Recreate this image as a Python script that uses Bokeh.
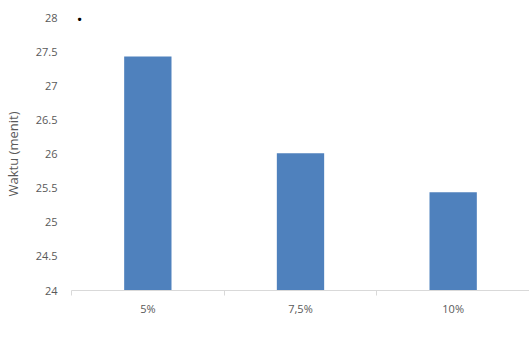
from bokeh.plotting import figure
from bokeh.models import ColumnDataSource, FixedTicker, Legend, LegendItem, Label, Range1d
from bokeh.embed import file_html
from bokeh.resources import INLINE

categories = ["5%", "7,5%", "10%"]
values = [27.43, 26.01, 25.44]
series_name = "Lama Waktu Pendidihan Air 1 Liter"
y_ticks = [24, 24.5, 25, 25.5, 26, 26.5, 27, 27.5, 28]

xs = [i + 0.5 for i in range(len(categories))]
src = ColumnDataSource(dict(x=xs, top=values, cat=categories))

FONT = "Open Sans"
GRAY = "#595959"

p = figure(frame_width=458, frame_height=273, output_backend="svg", toolbar_location=None,
           x_range=Range1d(0, len(categories)), y_range=Range1d(24, 28),
           min_border_left=8, min_border_right=0, min_border_top=17, min_border_bottom=0)
p.outline_line_color = None
p.grid.grid_line_color = None
p.background_fill_color = "white"
p.border_fill_color = "white"

r = p.vbar(x="x", top="top", bottom=24, width=0.31, source=src,
           fill_color="#4F81BD", line_color=None)

# x axis
p.xaxis.ticker = FixedTicker(ticks=xs, minor_ticks=list(range(len(categories) + 1)))
p.xaxis.major_label_overrides = {x: c for x, c in zip(xs, categories)}
p.xaxis.major_tick_line_color = None
p.xaxis.minor_tick_line_color = "#d9d9d9"
p.xaxis.minor_tick_in = 0
p.xaxis.minor_tick_out = 5
p.xaxis.axis_line_color = "#d9d9d9"
p.xaxis.major_label_text_font = FONT
p.xaxis.major_label_text_font_size = "11px"
p.xaxis.major_label_text_color = GRAY
p.xaxis.major_label_standoff = 4

# y axis
p.yaxis.ticker = FixedTicker(ticks=y_ticks)
p.yaxis.major_label_overrides = {t: (str(int(t)) if t == int(t) else str(t)) for t in y_ticks}
p.yaxis.axis_line_color = None
p.yaxis.major_tick_line_color = None
p.yaxis.minor_tick_line_color = None
p.yaxis.major_label_text_font = FONT
p.yaxis.major_label_text_font_size = "11px"
p.yaxis.major_label_text_color = GRAY
p.yaxis.major_label_standoff = 8
p.yaxis.axis_label = "Waktu (menit)"
p.yaxis.axis_label_text_font = FONT
p.yaxis.axis_label_text_font_size = "13px"
p.yaxis.axis_label_text_font_style = "normal"
p.yaxis.axis_label_text_color = GRAY
p.yaxis.axis_label_standoff = 11

legend = Legend(items=[LegendItem(label=series_name, renderers=[r])],
                orientation="horizontal", location=(124, 0),
                label_text_font=FONT, label_text_font_size="10px", label_text_color=GRAY,
                glyph_width=7, glyph_height=7, label_standoff=4, label_height=10,
                border_line_color=None, background_fill_alpha=0,
                padding=2, margin=2)
p.add_layout(legend, "below")

p.add_layout(Label(x=8, y=271, x_units="screen", y_units="screen", text="•",
                   text_font_size="12px", text_color="black", text_align="center",
                   text_baseline="middle"))

out = file_html(p, INLINE)
open("out.html", "w").write(out)
